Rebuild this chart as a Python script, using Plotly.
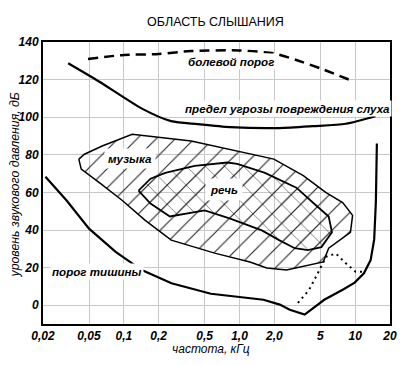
import numpy as np
import plotly.graph_objects as go

# ---- data (frequency in kHz, level in dB) ----
pain_f = [0.049, 0.1, 0.2, 0.38, 1.0, 2.0, 3.1, 5.0, 9.7]
pain_db = [131.0, 133.1, 133.6, 135.2, 135.5, 133.9, 130.4, 126.0, 119.0]

damage_f = [0.033, 0.061, 0.142, 0.256, 0.436, 0.83, 2.2, 4.3, 8.3, 15.0]
damage_db = [128.7, 119.0, 104.7, 97.9, 96.3, 94.7, 94.2, 95.2, 96.5, 100.5]

quiet_f = [0.021, 0.032, 0.05, 0.085, 0.143, 0.258, 0.566, 1.24, 1.61, 2.23, 2.72,
           3.66, 5.4, 7.8, 9.9, 11.9, 13.6, 14.6, 15.1, 15.4]
quiet_db = [68.3, 55.7, 40.7, 28.4, 18.7, 11.7, 6.1, 3.8, 2.9, 0.3, -2.4,
            -5.0, 2.9, 8.2, 12.0, 17.0, 24.0, 35.0, 55.0, 86.0]

music_f = [0.0408, 0.0456, 0.065, 0.118, 0.382, 1.33, 1.98, 3.56, 5.6, 7.8, 9.5, 9.1,
           5.9, 5.3, 2.55, 1.72, 1.23, 0.61, 0.257, 0.153, 0.097, 0.061, 0.0428]
music_db = [77.7, 80.3, 84.7, 90.9, 87.3, 80.3, 77.7, 68.9, 59.9, 54.6, 47.8, 38.8,
            30.3, 23.0, 18.7, 19.8, 23.0, 27.7, 34.6, 45.1, 55.7, 65.3, 72.4]

speech_f = [0.134, 0.17, 0.228, 0.41, 0.785, 0.955, 1.66, 3.1, 4.4, 5.9, 6.3, 5.1,
            3.9, 3.0, 2.2, 1.56, 0.82, 0.5, 0.25, 0.17]
speech_db = [60.9, 67.3, 70.4, 74.1, 75.9, 75.2, 70.4, 62.5, 54.1, 47.2, 38.8, 30.9,
             29.3, 30.3, 34.6, 39.8, 46.2, 50.4, 47.2, 54.1]

dot_f = [3.2, 4.0, 4.75, 5.6, 6.8, 8.3, 10.1, 11.5]
dot_db = [1.2, 8.2, 17.0, 25.8, 27.5, 22.3, 17.8, 17.8]

x_tickvals = [0.02, 0.05, 0.1, 0.2, 0.5, 1.0, 2.0, 5.0, 10.0, 20.0]
x_ticktext = ["0,02", "0,05", "0,1", "0,2", "0,5", "1,0", "2,0", "5", "10", "20"]
y_tickvals = [0, 20, 40, 60, 80, 100, 120, 140]

labels = [
    ("болевой порог", 0.85, 129.6, 1),
    ("предел угрозы повреждения слуха", 2.58, 104.5, 1),
    ("музыка", 0.113, 77.8, 3),
    ("речь", 0.73, 61.5, 4),
    ("порог тишины", 0.059, 17.7, 1),
]

FONT = "Liberation Sans, Arial, sans-serif"
PAT = 13.5

fig = go.Figure()

fig.add_trace(go.Scatter(
    x=music_f + [music_f[0]], y=music_db + [music_db[0]], mode="lines",
    line=dict(color="black", width=1.5), fill="toself", fillcolor="rgba(0,0,0,0)",
    fillpattern=dict(shape="/", size=PAT, solidity=0.08, fgcolor="#222222",
                     bgcolor="rgba(0,0,0,0)", fillmode="replace"),
    hoverinfo="skip", showlegend=False))

fig.add_trace(go.Scatter(
    x=speech_f + [speech_f[0]], y=speech_db + [speech_db[0]], mode="lines",
    line=dict(color="black", width=1.8), fill="toself", fillcolor="rgba(0,0,0,0)",
    fillpattern=dict(shape="x", size=PAT, solidity=0.08, fgcolor="#222222",
                     bgcolor="rgba(0,0,0,0)", fillmode="replace"),
    hoverinfo="skip", showlegend=False))

fig.add_trace(go.Scatter(x=dot_f, y=dot_db, mode="lines",
                         line=dict(color="black", width=2, dash="2px,4px"),
                         hoverinfo="skip", showlegend=False))
fig.add_trace(go.Scatter(x=quiet_f, y=quiet_db, mode="lines",
                         line=dict(color="black", width=2.2),
                         hoverinfo="skip", showlegend=False))
fig.add_trace(go.Scatter(x=damage_f, y=damage_db, mode="lines",
                         line=dict(color="black", width=2.2, shape="spline", smoothing=0.7),
                         hoverinfo="skip", showlegend=False))
fig.add_trace(go.Scatter(x=pain_f, y=pain_db, mode="lines",
                         line=dict(color="black", width=2.5, dash="10px,6px",
                                   shape="spline", smoothing=0.7),
                         hoverinfo="skip", showlegend=False))

for txt, f, db, pad in labels:
    fig.add_annotation(x=np.log10(f), y=db, xref="x", yref="y", text=txt, showarrow=False,
                       xanchor="center", yanchor="middle",
                       font=dict(family=FONT, size=11.6, color="black", style="italic",
                                 weight="bold"),
                       bgcolor="white", borderpad=pad)

fig.add_annotation(x=0.496, y=1.071, xref="paper", yref="paper", text="ОБЛАСТЬ СЛЫШАНИЯ",
                   showarrow=False, xanchor="center", yanchor="middle",
                   font=dict(family=FONT, size=12.5, color="black"))
fig.add_annotation(x=-0.082, y=0.493, xref="paper", yref="paper",
                   text="уровень звукового давления, дБ", textangle=-90, showarrow=False,
                   xanchor="center", yanchor="middle",
                   font=dict(family=FONT, size=12.3, color="black", style="italic"))
fig.add_annotation(x=0.483, y=-0.089, xref="paper", yref="paper", text="частота, кГц",
                   showarrow=False, xanchor="center", yanchor="middle",
                   font=dict(family=FONT, size=12, color="black", style="italic"))

fig.update_xaxes(type="log", range=[np.log10(0.02), np.log10(20)],
                 tickvals=x_tickvals, ticktext=x_ticktext,
                 showgrid=True, gridcolor="#c8c8c8", gridwidth=1,
                 showline=True, linecolor="black", linewidth=2, mirror=True,
                 ticks="", zeroline=False,
                 tickfont=dict(family=FONT, size=12, color="black", style="italic",
                               weight="bold"))
fig.update_yaxes(range=[-10, 140], tickvals=y_tickvals,
                 showgrid=True, gridcolor="#c8c8c8", gridwidth=1,
                 showline=True, linecolor="black", linewidth=2, mirror=True,
                 ticks="", zeroline=False,
                 tickfont=dict(family=FONT, size=12, color="black", style="italic",
                               weight="bold"))

fig.update_layout(width=409, height=365, margin=dict(l=43, r=13, t=42, b=41),
                  plot_bgcolor="white", paper_bgcolor="white", showlegend=False)

fig.write_html("out.html", config={"displayModeBar": False},
               post_script="document.body.style.margin='0';")
